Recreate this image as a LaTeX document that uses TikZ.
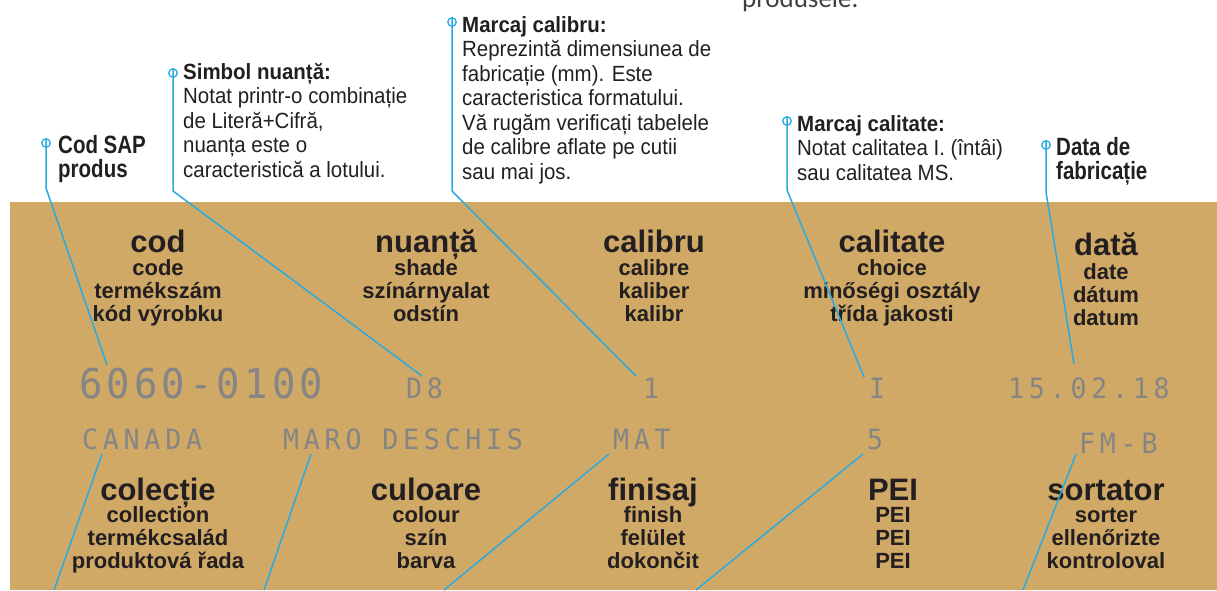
\documentclass[tikz,border=0pt]{standalone}
\usepackage{fontspec}
\setmainfont{Liberation Sans}
\newfontfamily\notefont[FakeStretch=0.93]{Liberation Sans}
\newfontfamily\titlefont[FakeStretch=0.82]{Liberation Sans}
\newfontfamily\bigstampfont[FakeStretch=0.95,LetterSpace=10]{DejaVu Sans Mono}
\newfontfamily\stampfont[FakeStretch=0.95,LetterSpace=17]{DejaVu Sans Mono}
\newfontfamily\strayfont{Carlito}
\usepackage{tikz}
\usetikzlibrary{positioning}
\definecolor{lbtan}{RGB}{209,169,102}
\definecolor{lbblue}{RGB}{41,171,226}
\definecolor{lbgrey}{RGB}{133,133,133}
\definecolor{lbink}{RGB}{35,31,32}
\tikzstyle{leader} = [line width=1.5pt, color=lbblue]
\tikzstyle{pin} = [circle, draw=lbblue, line width=1.3pt, inner sep=0pt, minimum size=8.5pt]
\tikzstyle{note} = [anchor=base west, align=left, inner sep=0pt, text=lbink, font=\notefont\fontsize{22}{24.5}\selectfont]
\tikzstyle{bignote} = [note, font=\titlefont\bfseries\fontsize{25}{24}\selectfont]
\tikzstyle{term} = [anchor=base, inner sep=0pt, text=lbink, font=\bfseries\fontsize{31}{31}\selectfont]
\tikzstyle{trans} = [anchor=base, align=center, inner sep=0pt, text=lbink, font=\bfseries\fontsize{22}{23}\selectfont]
\tikzstyle{stamp} = [anchor=base west, inner sep=0pt, text=lbgrey, font=\stampfont\fontsize{28}{28}\selectfont]
\tikzstyle{stray} = [anchor=base west, inner sep=0pt, text=black!75, font=\strayfont\fontsize{27}{27}\selectfont]

\begin{document}
\begin{tikzpicture}[x=1pt, y=-1pt]
\useasboundingbox (0,0) rectangle (1217,590);
\clip (0,0) rectangle (1217,590);
% label panel
\fill[lbtan] (10,202) rectangle (1217,590);
\node (prod) [stray] at (742,7) {produsele.};

% callouts above the panel (anchored on their last line)
\node (pcod) [pin] at (46,143) {};
\node (ncod) [bignote] at (58,177) {Cod SAP\\produs};
\node (pnua) [pin] at (173,73) {};
\node (nnua) [note] at (183,177) {{\bfseries Simbol nuanță:}\\Notat printr-o combinație\\de Literă+Cifră,\\nuanța este o\\caracteristică a lotului.};
\node (pcal) [pin] at (452,22) {};
\node (ncal) [note] at (462,179) {{\bfseries Marcaj calibru:}\\Reprezintă dimensiunea de\\fabricație (mm). Este\\caracteristica formatului.\\Vă rugăm verificați tabelele\\de calibre aflate pe cutii\\sau mai jos.};
\node (pqua) [pin] at (787,121) {};
\node (nqua) [note] at (797,180) {{\bfseries Marcaj calitate:}\\Notat calitatea I. (întâi)\\sau calitatea MS.};
\node (pdat) [pin] at (1046,145) {};
\node (ndat) [bignote] at (1056,179) {Data de\\fabricație};

% terms, upper row
\node (hcod) [term] at (158,252) {cod};
\node (scod) [trans] at (158,321) {code\\termékszám\\kód výrobku};
\node (hnua) [term] at (426,252) {nuanță};
\node (snua) [trans] at (426,321) {shade\\színárnyalat\\odstín};
\node (hcal) [term] at (654,252) {calibru};
\node (scal) [trans] at (654,321) {calibre\\kaliber\\kalibr};
\node (hqua) [term] at (892,252) {calitate};
\node (squa) [trans] at (892,321) {choice\\minőségi osztály\\třída jakosti};
\node (hdat) [term] at (1106,255) {dată};
\node (sdat) [trans] at (1106,325) {date\\dátum\\datum};

% printed codes
\node (vcod) [stamp, font=\bigstampfont\fontsize{41}{41}\selectfont] at (79,398) {6060-0100};
\node (vnua) [stamp] at (406,398) {D8};
\node (vcal) [stamp] at (643,398) {1};
\node (vqua) [stamp] at (869,398) {I};
\node (vdat) [stamp] at (1008,398) {15.02.18};
\node (vcol) [stamp] at (82,449) {CANADA};
\node (vclr) [stamp] at (283,449) {MARO DESCHIS};
\node (vfin) [stamp] at (613,449) {MAT};
\node (vpei) [stamp] at (867,449) {5};
\node (vsor) [stamp] at (1079,453) {FM-B};

% terms, lower row
\node (hcol) [term] at (158,500) {colecție};
\node (scol) [trans] at (158,568) {collection\\termékcsalád\\produktová řada};
\node (hclr) [term] at (426,500) {culoare};
\node (sclr) [trans] at (426,568) {colour\\szín\\barva};
\node (hfin) [term] at (653,500) {finisaj};
\node (sfin) [trans] at (653,568) {finish\\felület\\dokončit};
\node (hpei) [term] at (893,500) {PEI};
\node (spei) [trans] at (893,568) {PEI\\PEI\\PEI};
\node (hsor) [term] at (1106,500) {sortator};
\node (ssor) [trans] at (1106,568) {sorter\\ellenőrizte\\kontroloval};

% leader lines
\coordinate (bcod) at (46,188);  \coordinate (ecod) at (107,365);
\coordinate (bnua) at (173,191); \coordinate (enua) at (422,376);
\coordinate (bcal) at (452,191); \coordinate (ecal) at (636,376);
\coordinate (bqua) at (787,190); \coordinate (equa) at (864,377);
\coordinate (bdat) at (1046,192); \coordinate (edat) at (1074,364);
\draw[leader] (pcod.north) -- (bcod) -- (ecod);
\draw[leader] (pnua.north) -- (bnua) -- (enua);
\draw[leader] (pcal.north) -- (bcal) -- (ecal);
\draw[leader] (pqua.north) -- (bqua) -- (equa);
\draw[leader] (pdat.north) -- (bdat) -- (edat);

\coordinate (tcol) at (102,454);  \coordinate (fcol) at (54,590);
\coordinate (tclr) at (311,454);  \coordinate (fclr) at (264,590);
\coordinate (tfin) at (609,454);  \coordinate (ffin) at (444,590);
\coordinate (tpei) at (863,454);  \coordinate (fpei) at (696,590);
\coordinate (tsor) at (1076,454); \coordinate (fsor) at (1023,590);
\foreach \c in {col,clr,fin,pei,sor}
  \draw[leader] (t\c) -- (f\c);
\end{tikzpicture}
\end{document}
